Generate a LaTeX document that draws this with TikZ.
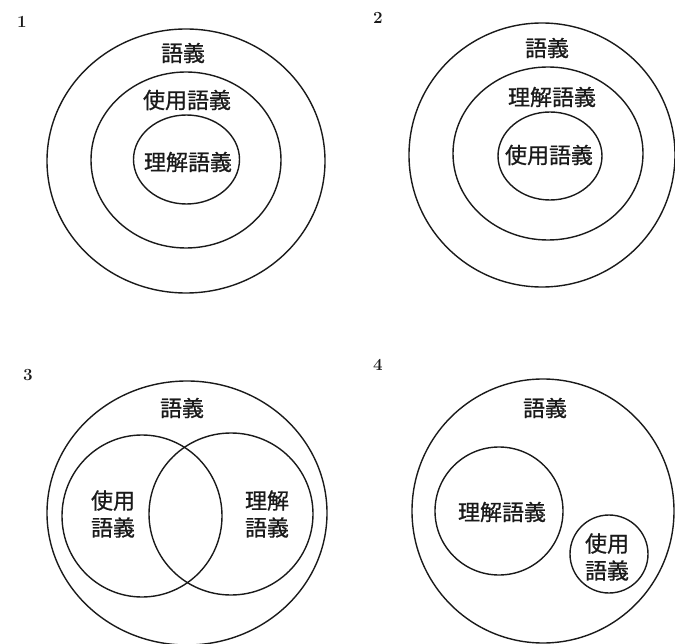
\documentclass[tikz,border=0pt]{standalone}
\usepackage{fontspec}
\newfontfamily\jpfont[FakeBold=0.8]{Noto Sans CJK JP}
\definecolor{InkBlack}{HTML}{1A1A1A}

\begin{document}
\begin{tikzpicture}[x=1pt, y=-1pt,
    ring/.style={InkBlack, line width=1.4pt},
    lbl/.style={font=\jpfont\fontsize{22}{27}\selectfont, InkBlack,
      inner sep=0pt, align=center},
    num/.style={font=\bfseries\fontsize{17}{19}\selectfont, InkBlack,
      inner sep=0pt}]
    \useasboundingbox (0,0) rectangle (675,644);
    % Panel 1
    \node[num] (num1) at (22,22) {1};
    \draw[ring] (186,161) ellipse [x radius=139pt, y radius=132pt];
    \draw[ring] (186,160) ellipse [x radius=95pt, y radius=88pt];
    \draw[ring] (186.5,159.5) ellipse [x radius=53pt, y radius=44.5pt];
    \node[lbl] (gogi1) at (183,53) {語義};
    \node[lbl] (shiyo1) at (187,100) {使用語義};
    \node[lbl] (rikai1) at (188,162) {理解語義};
    % Panel 2
    \node[num] (num2) at (378,18) {2};
    \draw[ring] (542,155) ellipse [x radius=133pt, y radius=132pt];
    \draw[ring] (548,153.5) ellipse [x radius=95pt, y radius=86.5pt];
    \draw[ring] (550,156) ellipse [x radius=52pt, y radius=44pt];
    \node[lbl] (gogi2) at (547,48) {語義};
    \node[lbl] (rikai2) at (552,97) {理解語義};
    \node[lbl] (shiyo2) at (549,155) {使用語義};
    % Panel 3
    \node[num] (num3) at (28,375) {3};
    \draw[ring] (187,513) ellipse [x radius=140pt, y radius=132pt];
    \draw[ring] (142,516) ellipse [x radius=80pt, y radius=81pt];
    \draw[ring] (231,514) ellipse [x radius=82pt, y radius=81pt];
    \node[lbl] (gogi3) at (182,408) {語義};
    \node[lbl] (shiyo3) at (113,514) {使用\\語義};
    \node[lbl] (rikai3) at (267,514) {理解\\語義};
    % Panel 4
    \node[num] (num4) at (378,365) {4};
    \draw[ring] (543,511) ellipse [x radius=131pt, y radius=132pt];
    \draw[ring] (499,511) ellipse [x radius=64pt, y radius=64pt];
    \draw[ring] (609,554) ellipse [x radius=39pt, y radius=39pt];
    \node[lbl] (gogi4) at (545,408) {語義};
    \node[lbl] (rikai4) at (502,512) {理解語義};
    \node[lbl] (shiyo4) at (607,557) {使用\\語義};
\end{tikzpicture}
\end{document}
